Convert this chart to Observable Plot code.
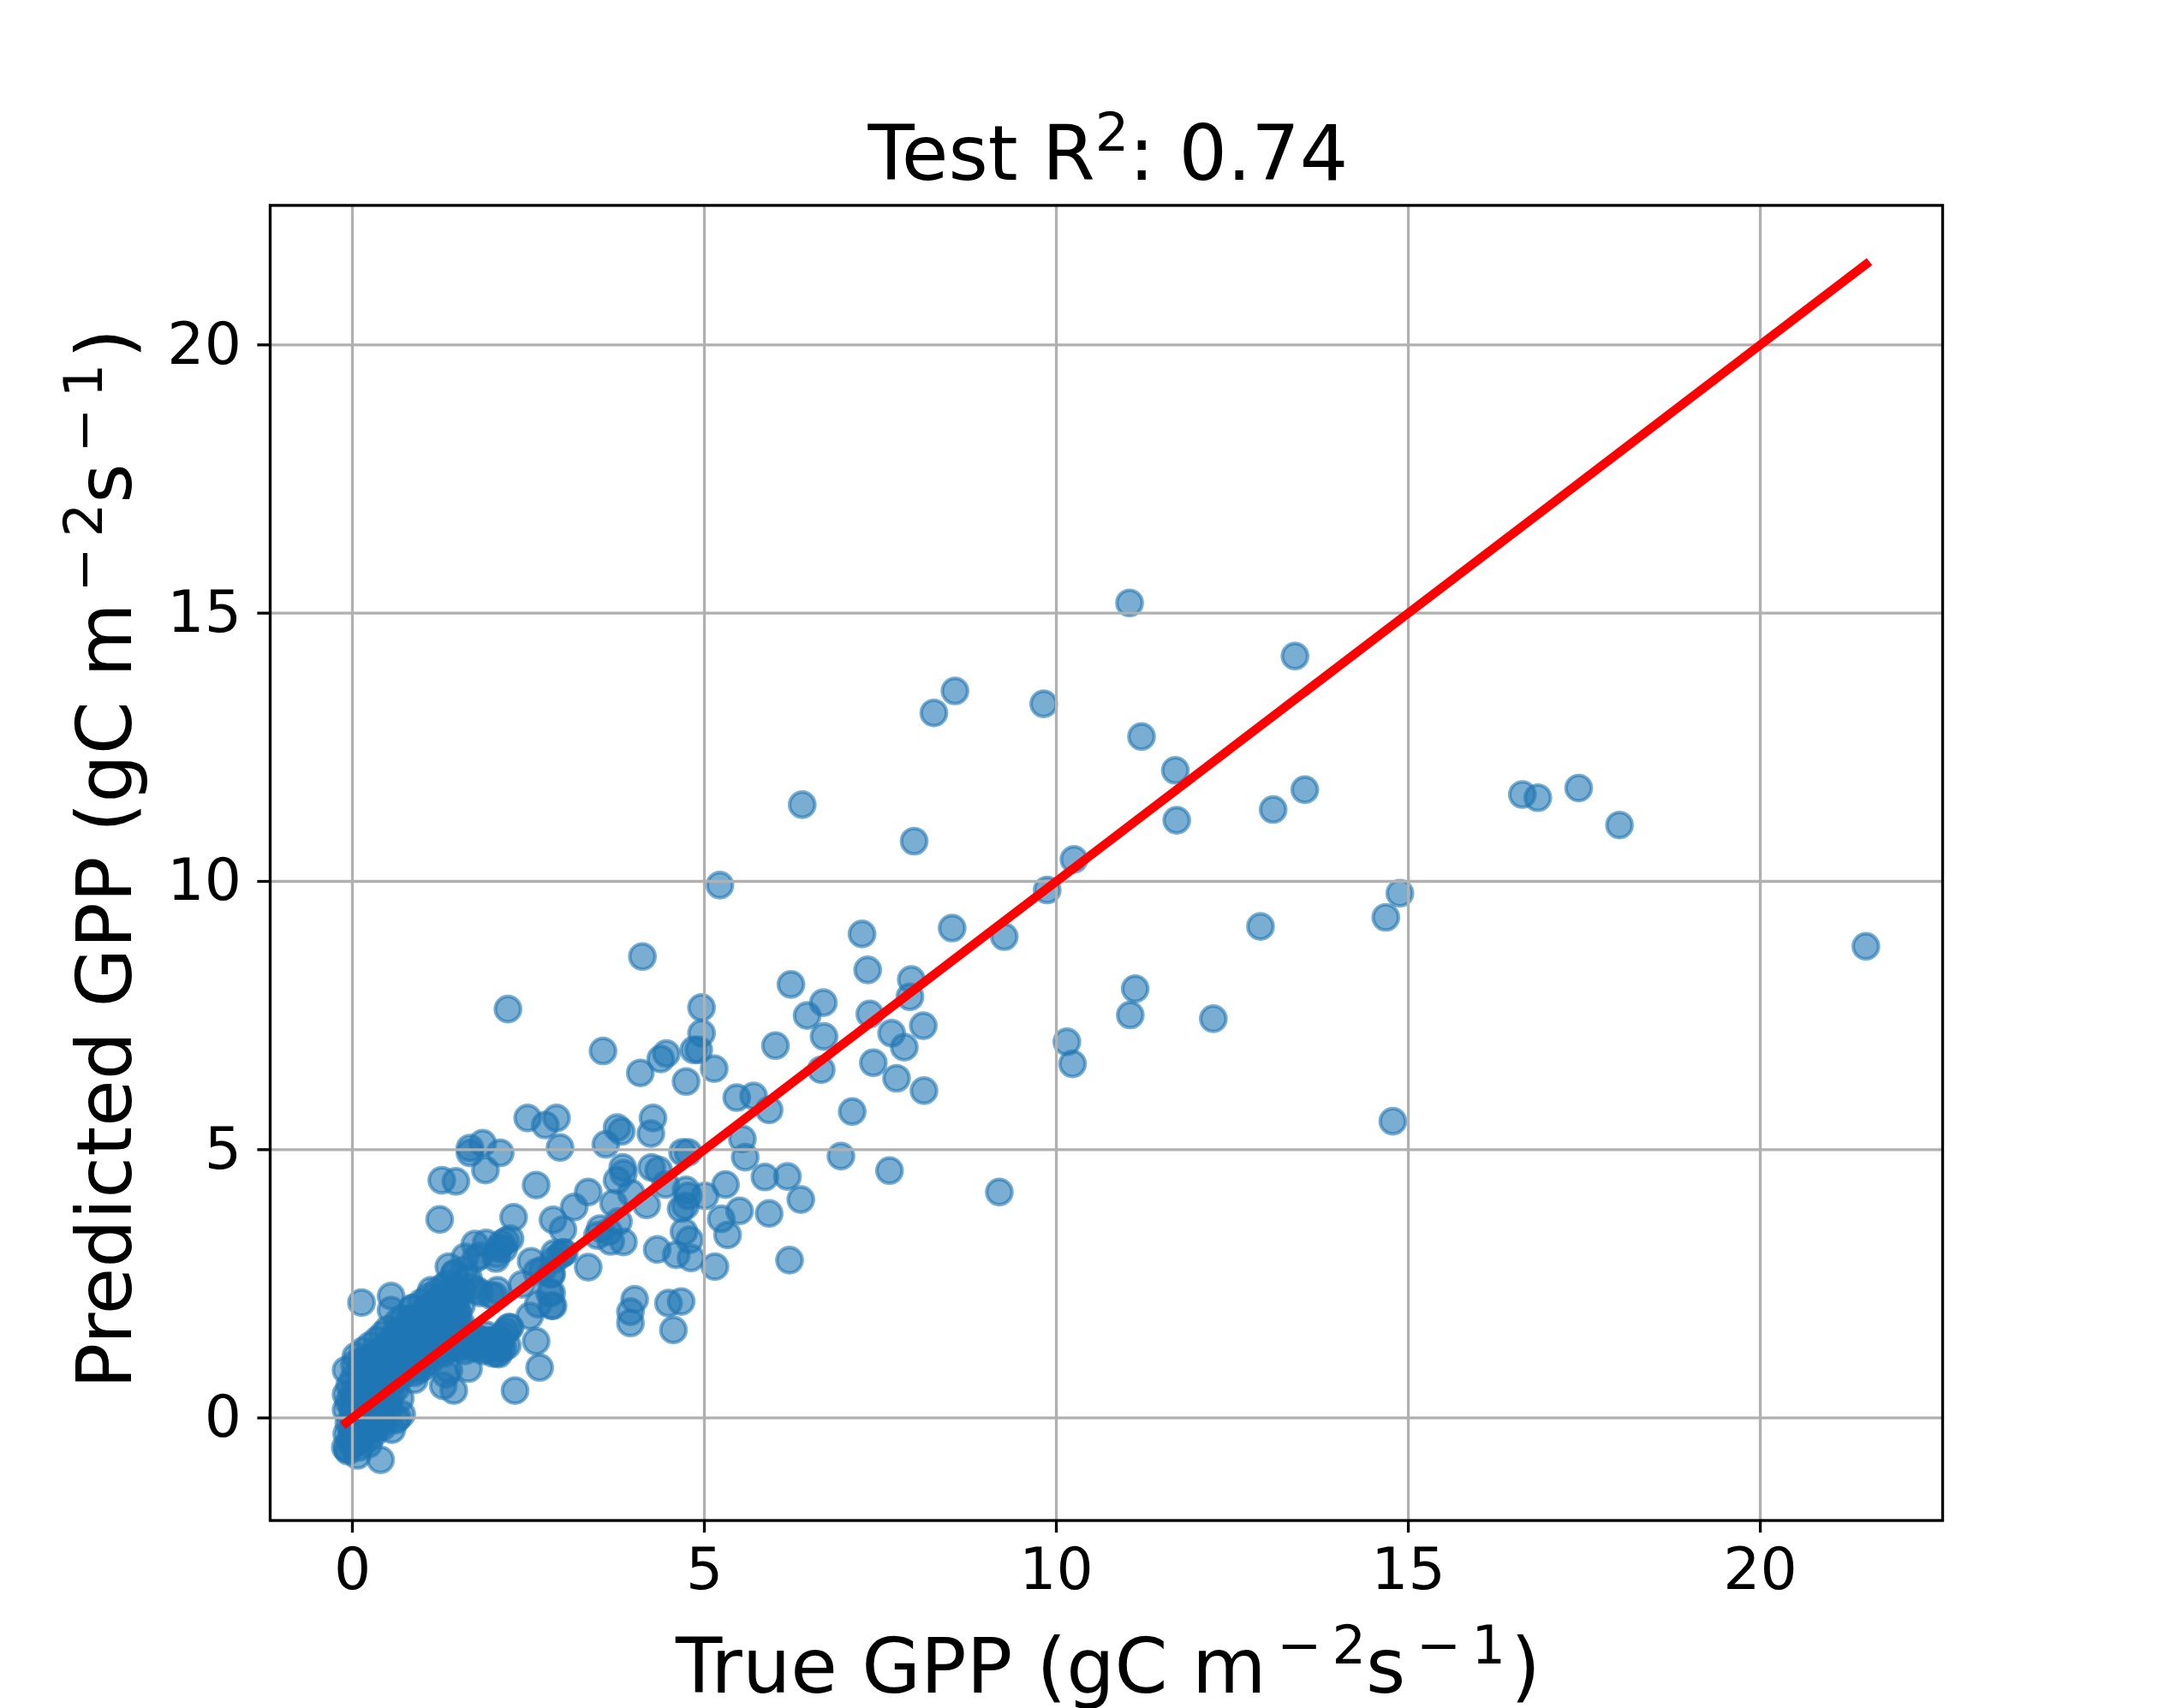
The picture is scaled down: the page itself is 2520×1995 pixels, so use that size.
<!DOCTYPE html>
<html>
<head>
<meta charset="utf-8">
<script src="https://cdn.jsdelivr.net/npm/d3@7"></script>
<script src="https://cdn.jsdelivr.net/npm/@observablehq/plot@0.6"></script>
<style>
  body { margin: 0; background: white; }
  svg { display: block; }
</style>
</head>
<body>
<div id="chart"></div>
<script>
const xTicks = [0, 5, 10, 15, 20];
const yTicks = [0, 5, 10, 15, 20];
const xDomain = [-1.168, 22.59];
const yDomain = [-1.912, 22.6];
const identityLine = [-0.09, 21.5];

const trueGpp = [
  11.04, 13.39, 8.56, 8.26, 9.82, 11.21, 11.69, 6.39, 7.98, 11.71,
  13.08, 13.53, 16.62, 16.84, 17.42, 18.0, 10.25, 9.87, 5.22, 14.88,
  14.68, 12.90, 8.52, 9.26, 7.24, 4.12, 21.5, 7.32, 6.23, 7.94,
  7.92, 11.12, 6.69, 2.21, 4.96, 7.35, 6.46, 11.05, 12.23, 8.11,
  7.66, 4.96, 6.70, 10.15, 7.84, 6.01, 10.23, 3.56, 4.85, 4.92,
  7.40, 6.66, 5.14, 4.38, 4.46, 4.09, 4.74, 7.73, 8.12, 5.46,
  5.70, 5.92, 7.10, 14.78, 5.54, 5.58, 6.94, 5.86, 6.18, 7.63,
  9.19, 6.37, 5.92, 5.50, 5.33, 6.21, 5.24, 5.15, 5.30, 5.01,
  4.27, 2.90, 3.76, 3.82, 4.24, 3.60, 2.95, 4.69, 4.77, 3.84,
  3.85, 3.76, 4.25, 4.35, 4.74, 4.77, 4.67, 4.73, 4.45, 4.18,
  3.96, 3.71, 3.35, 3.15, 3.78, 2.85, 2.99, 3.52, 3.48, 3.67,
  3.85, 3.64, 4.33, 4.60, 4.81, 4.71, 4.79, 3.35, 2.99, 2.87,
  2.82, 2.80, 2.85, 4.01, 3.95, 3.95, 4.49, 4.67, 4.56, 2.49,
  2.74, 2.61, 2.29, 1.24, 1.27, 1.47, 1.67, 1.85, 1.67, 2.10,
  1.89, 1.74, 1.90, 2.24, 2.18, 2.12, 2.08, 2.04, 1.75, 1.81,
  1.37, 1.45, 1.59, 2.54, 2.70, 2.83, 3.01, 2.95, 2.87, 2.62,
  2.41, 2.83, 2.83, 2.64, 2.52, 2.24, 2.18, 2.10, 2.08, 2.14,
  1.97, 1.86, 1.73, 1.61, 2.61, 2.66, 2.31, 1.65, 1.29, 1.44,
  1.33, 0.88, 2.06, 1.97, 1.81, 1.69, 0.13, 0.55, 0.86, 0.55,
  1.12, 2.02, 2.06, 0.88, 1.37, -0.09, -0.09, -0.09, 0.68, 0.70,
  0.56, 0.64, 0.62, 0.40, -0.06, 0.07, -0.03, 0.23, 0.07, -0.07,
  1.65, 1.45, 1.57, 1.77, 1.60, 2.05, 2.15, 2.22, 2.09, 1.94,
  -0.1, -0.08, -0.05, -0.05, -0.04, 0.0, 0.0, 0.02, 0.0, 0.02,
  0.03, 0.05, 0.1, 0.12, 0.1, 0.12, 0.1, 0.12, 0.13, 0.15,
  0.2, 0.22, 0.2, 0.22, 0.2, 0.23, 0.22, 0.25, 0.3, 0.32,
  0.3, 0.32, 0.3, 0.33, 0.32, 0.35, 0.42, 0.4, 0.43, 0.42,
  0.4, 0.43, 0.45, 0.43, 0.52, 0.5, 0.53, 0.5, 0.52, 0.55,
  0.5, 0.62, 0.6, 0.63, 0.6, 0.65, 0.62, 0.65, 0.72, 0.7,
  0.73, 0.7, 0.75, 0.72, 0.8, 0.82, 0.8, 0.85, 0.82, 0.85,
  0.92, 0.9, 0.95, 0.92, 0.95, 0.98, 1.02, 1.0, 1.05, 1.02,
  1.05, 1.08, 1.12, 1.15, 1.12, 1.15, 1.18, 1.2, 1.25, 1.22,
  1.25, 1.28, 1.25, 1.3, 1.35, 1.32, 1.38, 1.35, 1.4, 1.42,
  1.45, 1.48, 1.45, 1.5, 1.55, 1.5, 1.6, 1.7, 1.8, 0.95,
  1.2, 1.3, 1.4, 1.5, 1.55, 1.3, 1.4, 1.5, 1.45, 1.35,
  1.1, 1.0, 0.9, 0.8, 0.7, 0.6, 0.5, 1.15, 1.0, 0.85,
  0.75, 0.65, 0.55, 0.45, 0.35, 0.25, 0.15, 0.05, 0.6, 0.4,
  1.62, 1.72, 1.85, 1.95, 2.05, 2.15, 1.75, 1.9, 2.0, 2.2,
  0.05, 0.15, 0.25, 0.0, 0.1, 0.2, 0.0, 0.3, 0.15, 0.4,
  0.9, 1.0, 1.1, 0.85, 0.95, 1.05, 1.2, 1.3, 1.1, 1.4,
  0.62, 0.7, 0.8, 0.9, 1.0, 1.1, 1.2, 1.3, 1.4, 1.5,
  1.6, 1.7, 1.8, 1.9, 2.0, 2.1, 1.55, 1.65, 1.85, 2.0,
  1.1, 1.2, 1.35, 1.45, 1.55, 1.5, 1.4, 1.3, 1.2, 1.05,
  0.23, 0.43, 0.51, 0.11, 0.3, 0.35, 0.45, 0.2, 0.55, 0.4,
  0.55, 0.65, 0.75, 0.85, 0.9, 0.78, 0.68, 0.58, 0.48, 0.38
];

const predictedGpp = [
  15.19, 14.20, 13.55, 13.14, 13.31, 12.70, 12.07, 11.43, 10.75, 11.14,
  11.34, 11.71, 11.62, 11.56, 11.74, 11.05, 10.41, 9.84, 9.93, 9.78,
  9.33, 9.16, 9.13, 8.97, 9.02, 8.60, 8.79, 8.35, 8.08, 8.17,
  7.85, 8.0, 7.74, 7.62, 7.65, 7.53, 7.50, 7.51, 7.44, 7.31,
  7.17, 7.17, 7.11, 7.01, 6.91, 6.94, 6.60, 6.84, 6.86, 6.86,
  6.62, 6.49, 6.51, 6.69, 6.79, 6.43, 6.27, 6.33, 6.10, 5.97,
  6.00, 5.74, 5.71, 5.53, 5.20, 4.86, 4.88, 4.49, 4.50, 4.61,
  4.21, 4.07, 3.81, 3.86, 3.41, 2.94, 3.71, 2.82, 4.35, 4.14,
  5.59, 5.59, 5.41, 5.34, 5.30, 5.10, 5.04, 4.95, 4.95, 4.67,
  4.56, 4.43, 4.67, 4.62, 4.25, 4.14, 3.90, 3.95, 4.35, 3.97,
  4.19, 4.00, 4.21, 3.93, 3.66, 3.69, 3.51, 3.53, 3.40, 3.29,
  3.28, 3.47, 3.14, 3.04, 2.98, 3.47, 3.32, 2.81, 3.08, 3.07,
  2.68, 2.33, 2.09, 2.21, 1.98, 1.77, 2.14, 2.17, 1.64, 5.59,
  5.46, 4.34, 3.74, 3.70, 4.43, 4.41, 5.03, 5.12, 4.94, 4.94,
  4.62, 3.24, 3.26, 3.34, 3.30, 3.25, 3.16, 2.97, 2.97, 3.02,
  2.82, 2.68, 2.76, 2.92, 2.76, 2.68, 3.08, 3.03, 2.95, 2.72,
  2.49, 2.33, 2.09, 2.12, 1.90, 1.69, 1.62, 1.43, 1.19, 1.30,
  1.43, 1.45, 1.43, 1.36, 1.43, 0.94, 0.51, 0.92, 0.60, 0.51,
  0.81, 0.71, 2.38, 2.28, 2.33, 2.44, 2.15, 2.27, 2.04, 2.01,
  2.38, 2.28, 1.21, 0.84, 0.89, 0.89, 0.44, 0.15, 0.36, 0.07,
  -0.22, 0.00, -0.04, -0.78, -0.62, -0.70, -0.40, -0.49, -0.32, -0.58,
  2.60, 2.70, 2.38, 2.38, 3.00, 3.05, 3.15, 1.69, 1.48, 1.43,
  -0.55, -0.3, -0.1, 0.3, 0.6, -0.5, -0.2, 0.1, 0.45, 0.75,
  1.0, 1.15, -0.55, -0.25, 0.05, 0.3, 0.55, 0.8, 1.05, 1.25,
  -0.4, -0.15, 0.12, 0.4, 0.65, 0.9, 1.12, 1.35, -0.3, -0.05,
  0.22, 0.5, 0.75, 1.0, 1.2, 1.45, -0.1, 0.15, 0.4, 0.65,
  0.85, 1.1, 1.3, 1.55, 0.3, 0.55, 0.8, 1.0, 1.25, 1.45,
  1.65, 0.55, 0.75, 1.0, 1.2, 1.4, 1.6, 1.8, 0.8, 1.05,
  1.25, 1.45, 1.65, 1.85, 0.95, 1.15, 1.4, 1.6, 1.85, 2.05,
  1.0, 1.2, 1.45, 1.7, 1.9, 2.15, 1.15, 1.35, 1.6, 1.85,
  2.05, 2.25, 1.3, 1.5, 1.75, 1.95, 2.15, 2.35, 1.4, 1.6,
  1.85, 2.05, 2.25, 2.45, 1.5, 1.75, 1.95, 2.15, 2.35, 1.55,
  1.8, 2.0, 2.2, 1.4, 1.65, 1.65, 1.5, 1.55, 1.35, 0.9,
  1.25, 1.3, 1.4, 1.55, 1.75, 2.1, 2.3, 2.25, 1.95, 2.5,
  1.05, 0.95, 1.05, 1.0, 0.95, 0.85, 0.75, 1.6, 1.7, 1.3,
  1.2, 1.1, 1.0, 0.9, 0.8, 0.7, 0.6, 0.4, 1.45, 1.25,
  1.42, 1.3, 1.3, 1.35, 1.35, 1.55, 1.5, 1.55, 1.2, 1.35,
  -0.45, -0.35, -0.2, -0.3, -0.1, 0.0, 0.2, -0.2, 0.15, 0.1,
  1.55, 1.75, 1.95, 1.5, 1.3, 1.45, 1.8, 1.7, 1.65, 1.7,
  0.7, 0.85, 0.9, 0.95, 1.1, 1.15, 1.2, 1.2, 1.3, 1.3,
  1.25, 1.4, 1.45, 1.4, 1.45, 1.3, 1.4, 1.5, 1.25, 1.3,
  2.0, 2.1, 2.27, 2.35, 2.1, 1.95, 1.85, 1.9, 1.5, 1.55,
  0.04, -0.17, 0.15, -0.38, 0.1, -0.15, 0.3, -0.25, 0.45, 0.0,
  1.1, 1.25, 1.4, 1.5, 1.35, 1.15, 1.0, 0.9, 1.1, 1.0
];

const points = trueGpp.map((d, i) => ({x: d, y: predictedGpp[i]}));

const titleParts = [["Test R"], ["2", true], [": 0.74"]];
const xLabelParts = [["True GPP (gC m"], ["\u2009\u2212\u20092", true], ["s"], ["\u2009\u2212\u20091\u200a", true], [")"]];
const yLabelParts = xLabelParts.map((p, i) => i == 0 ? ["Predicted GPP (gC m"] : p);

let chart = Plot.plot({
  width: 2520,
  height: 1995,
  marginLeft: 315,
  marginRight: 252,
  marginTop: 239.4,
  marginBottom: 219.5,
  style: {fontFamily: "DejaVu Sans", background: "white", color: "black"},
  x: {domain: xDomain},
  y: {domain: yDomain},
  marks: [
    Plot.dot(points, {
      x: "x",
      y: "y",
      r: 14.73,
      fill: "#1f77b4",
      fillOpacity: 0.6,
      stroke: "#1f77b4",
      strokeOpacity: 0.6,
      strokeWidth: 4.17
    }),
    Plot.gridX(xTicks, {stroke: "#b0b0b0", strokeOpacity: 1, strokeWidth: 3.33}),
    Plot.gridY(yTicks, {stroke: "#b0b0b0", strokeOpacity: 1, strokeWidth: 3.33}),
    Plot.line(identityLine, {x: d => d, y: d => d, stroke: "red", strokeWidth: 10.4, strokeLinecap: "square"}),
    Plot.axisX({ticks: xTicks, tickSize: 14.6, tickPadding: 17, fontSize: 68, strokeWidth: 3.33, label: null}),
    Plot.axisY({ticks: yTicks, tickSize: 14.6, tickPadding: 19, fontSize: 68, strokeWidth: 3.33, label: null}),
    Plot.frame({stroke: "black", strokeWidth: 3.33})
  ]
});

// matplotlib style text with raised exponents, Plot.text has no tspans
function addText(parts, x, y, size, rotate) {
  let text = d3.select(chart).append("text")
    .attr("text-anchor", "middle")
    .attr("font-size", size)
    .attr("font-family", "DejaVu Sans")
    .attr("fill", "black")
    .attr("transform", `translate(${x},${y}) rotate(${rotate})`);
  let raised = false;
  parts.forEach(([str, sup]) => {
    let shift = 0;
    if (sup && !raised) shift = -size * 0.385;
    if (!sup && raised) shift = size * 0.385;
    raised = !!sup;
    text.append("tspan")
      .attr("dy", shift)
      .attr("font-size", sup ? size * 0.7 : size)
      .text(str);
  });
}

addText(titleParts, 1294, 210, 88.9, 0);
addText(xLabelParts, 1294, 1977, 88.9, 0);
addText(yLabelParts, 153, 1003, 88.9, -90);

d3.select("#chart").append(() => chart);
</script>
</body>
</html>
